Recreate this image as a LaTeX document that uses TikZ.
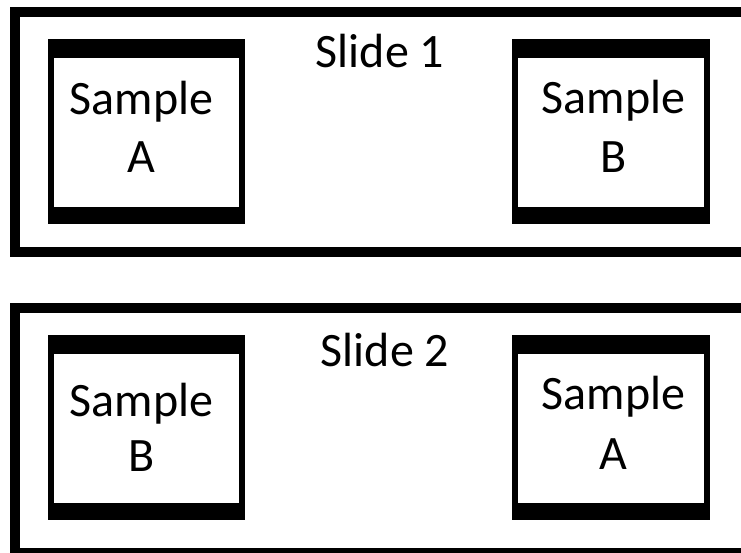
\documentclass[tikz,border=0pt]{standalone}
\usepackage{fontspec}
\setmainfont{Carlito}
\begin{document}
\begin{tikzpicture}[x=1pt,y=1pt,
  slideframe/.style={draw=black,line width=10pt},
  lbl/.style={anchor=base,inner sep=0pt,font=\fontsize{48}{58}\selectfont}]
\useasboundingbox (0,0) rectangle (741,553);
\clip (0,0) rectangle (741,553);
% slide frames
\draw[slideframe] (15,{553-12}) rectangle (760,{553-252});
\draw[slideframe] (15,{553-307.7}) rectangle (760,{553-553});
% sample boxes (outer black, inner white)
\newcommand{\samplebox}[4]{%
  \fill[black] (#1,{553-#2}) rectangle (#3,{553-#4});
  \fill[white] ({#1+6},{553-#2-19}) rectangle ({#3-6},{553-#4+17});
}
\samplebox{48}{39}{245}{224}
\samplebox{512}{39}{710}{224}
\samplebox{48}{335}{245}{520}
\samplebox{512}{335}{710}{520}
% labels
\node[lbl] (s1) at (380,{553-68}) {Slide 1};
\node[lbl] (s2) at (385,{553-367}) {Slide 2};
\node[lbl] (a1s) at (141.5,{553-115}) {Sample};
\node[lbl] (a1l) at (141.5,{553-173}) {A};
\node[lbl] (b1s) at (613.5,{553-114}) {Sample};
\node[lbl] (b1l) at (613.5,{553-173}) {B};
\node[lbl] (b2s) at (141.5,{553-416.7}) {Sample};
\node[lbl] (b2l) at (141.5,{553-471.7}) {B};
\node[lbl] (a2s) at (613.5,{553-410}) {Sample};
\node[lbl] (a2l) at (613.5,{553-470}) {A};
\end{tikzpicture}
\end{document}
